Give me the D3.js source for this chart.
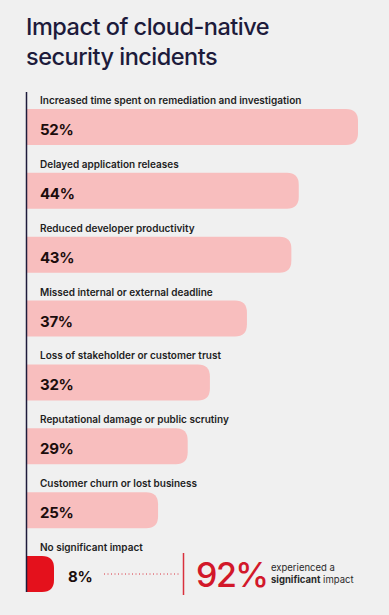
<!DOCTYPE html>
<html>
<head>
<meta charset="utf-8">
<script src="https://cdn.jsdelivr.net/npm/d3@7"></script>
<style>
  html, body { margin: 0; padding: 0; background: #f0f0f0; }
  #chart { width: 389px; height: 615px; }
  text { font-family: Inter, "Noto Sans", sans-serif; }
</style>
</head>
<body>
<div id="chart"></div>
<script>
const categories = [
  'Increased time spent on remediation and investigation',
  'Delayed application releases',
  'Reduced developer productivity',
  'Missed internal or external deadline',
  'Loss of stakeholder or customer trust',
  'Reputational damage or public scrutiny',
  'Customer churn or lost business',
  'No significant impact'
]
const values = [52, 44, 43, 37, 32, 29, 25, 8]
const highlight = 'No significant impact'
const summaryValue = 92
const summaryText = ['experienced a', 'significant', ' impact']

const W = 389, H = 615
const svg = d3.select('#chart').append('svg').attr('width', W).attr('height', H)

// title
const title = svg.append('text')
  .attr('x', 26).attr('y', 35)
  .attr('fill', '#1d1b3b')
  .style('font-size', '23.5px')
  .style('font-weight', 500)
  .style('letter-spacing', '-0.5px')
title.append('tspan').attr('x', 26).text('Impact of cloud-native')
title.append('tspan').attr('x', 26).attr('dy', 30).text('security incidents')

const x0 = 27
const x = d3.scaleLinear().domain([7.3, 52]).range([x0, 358])
const y = d3.scaleBand().domain(categories).range([93, 93 + 63.86 * categories.length])

const barH = 36, barTop = 16, r = 12, minW = 27

function barPath(d, i) {
  const top = y(categories[i]) + barTop
  const w = Math.max(x(d) - x0, minW)
  const rr = Math.min(r, w)
  return `M${x0},${top} H${x0 + w - rr} Q${x0 + w},${top} ${x0 + w},${top + rr}
    V${top + barH - rr} Q${x0 + w},${top + barH} ${x0 + w - rr},${top + barH} H${x0} Z`
}

const rows = svg.append('g')
rows.selectAll('path.bar')
  .data(values)
  .join('path')
  .attr('class', 'bar')
  .attr('d', barPath)
  .attr('fill', (d, i) => categories[i] === highlight ? '#e4111c' : '#f8bebe')

rows.selectAll('text.cat')
  .data(categories)
  .join('text')
  .attr('class', 'cat')
  .attr('x', 40)
  .attr('y', d => y(d) + barTop - 5)
  .attr('fill', '#1e1e1e')
  .style('font-size', '10px')
  .style('font-weight', 600)
  .text(d => d)

rows.selectAll('text.val')
  .data(values)
  .join('text')
  .attr('class', 'val')
  .attr('x', (d, i) => categories[i] === highlight ? x0 + minW + 14 : 40)
  .attr('y', (d, i) => y(categories[i]) + barTop + 26)
  .attr('fill', '#1b0d0d')
  .style('font-size', '15px')
  .style('font-weight', 700)
  .style('letter-spacing', '-0.3px')
  .text(d => d + '%')

// vertical axis line
const last = categories[categories.length - 1]
svg.append('line')
  .attr('x1', x0 - 0.5).attr('x2', x0 - 0.5)
  .attr('y1', 92).attr('y2', y(last) + barTop + barH)
  .attr('stroke', '#1d1b3b').attr('stroke-width', 1.5)

// summary: dotted leader, divider, 92%
const sy = y(last) + barTop + barH / 2
svg.append('line')
  .attr('x1', 104).attr('x2', 179)
  .attr('y1', sy).attr('y2', sy)
  .attr('stroke', '#d9303c').attr('stroke-width', 1)
  .attr('stroke-dasharray', '1 2.5')

svg.append('line')
  .attr('x1', 183.5).attr('x2', 183.5)
  .attr('y1', sy - 21).attr('y2', sy + 21)
  .attr('stroke', '#d9303c').attr('stroke-width', 1.5)

svg.append('text')
  .attr('x', 196).attr('y', sy + 13)
  .attr('fill', '#d2182a')
  .style('font-size', '34px')
  .style('font-weight', 500)
  .style('letter-spacing', '-1.5px')
  .text(summaryValue + '%')

svg.append('text')
  .attr('x', 271).attr('y', sy - 3)
  .attr('fill', '#2a2a2a')
  .style('font-size', '9.5px')
  .text(summaryText[0])

const s2 = svg.append('text')
  .attr('x', 271).attr('y', sy + 9)
  .attr('fill', '#2a2a2a')
  .style('font-size', '9.5px')
s2.append('tspan').style('font-weight', 700).text(summaryText[1])
s2.append('tspan').text(summaryText[2])
</script>
</body>
</html>
